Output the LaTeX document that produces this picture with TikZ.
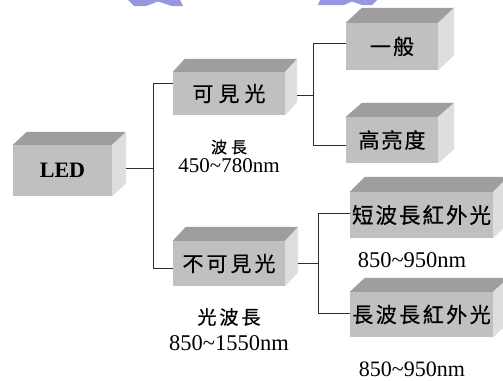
\documentclass[tikz,border=0pt]{standalone}
\usepackage{fontspec}
\setmainfont{Liberation Serif}
\newfontfamily\cjk[FakeBold=0.6]{Noto Sans CJK TC}
\usetikzlibrary{calc}
\definecolor{frontc}{RGB}{192,192,192}
\definecolor{topc}{RGB}{158,158,158}
\definecolor{sidec}{RGB}{222,222,222}
\definecolor{linec}{RGB}{45,45,45}
\definecolor{wmark}{RGB}{150,150,225}
\newcommand\cz[1]{\cjk\fontsize{#1}{#1}\selectfont}
\newcommand\nz[1]{\fontsize{#1}{#1}\selectfont}
\newcommand\cubebox[8]{%
  \node[frontbox, minimum width=#4pt, minimum height=#5pt] (#1) at (#2,#3) {#8};
  \fill[topc] (#1.north west) -- ++(#6,-#7) -- ($(#1.north east)+(#6,-#7)$) -- (#1.north east) -- cycle;
  \fill[sidec] (#1.north east) -- ++(#6,-#7) -- ($(#1.south east)+(#6,-#7)$) -- (#1.south east) -- cycle;
}
\tikzset{
  frontbox/.style={fill=frontc, draw=none, inner sep=0pt, text=black},
  conn/.style={draw=linec, line width=0.8pt},
  lbl/.style={inner sep=0pt, text=black, align=center},
}
\begin{document}
\begin{tikzpicture}[x=1pt,y=-1pt]
\useasboundingbox (0,0) rectangle (503,380);
\fill[white] (0,0) rectangle (503,380);
\begin{scope}
\clip (0,0) rectangle (503,380);
% watermark remnants
\fill[wmark] (128,0) -- (180,0) -- (183,6) -- (172,6) -- (158,1.5) -- (146,6) -- (134,6) -- cycle;
\fill[wmark] (320,0) -- (377,0) -- (372,5) -- (362,5) -- (352,1.5) -- (344,5) -- (318,5) -- cycle;
% boxes
\cubebox{led}{62.5}{170.5}{99}{51}{14}{13}{\raisebox{-1.5pt}{\nz{22}\bfseries LED}}
\cubebox{vis}{229}{93.5}{112}{43}{12}{13}{\cz{21}可\hspace{5pt}見\hspace{5pt}光}
\cubebox{inv}{229}{263.5}{112}{45}{13}{14}{\raisebox{-2.5pt}{\cz{21}不\hspace{3pt}可\hspace{3pt}見\hspace{3pt}光}}
\cubebox{gen}{392}{46.5}{92}{47}{16}{15}{\raisebox{-1.5pt}{\cz{21}一\hspace{2pt}般}}
\cubebox{hib}{392}{140}{92}{46}{16}{14}{\raisebox{-4pt}{\cz{21}高\hspace{2pt}亮\hspace{2pt}度}}
\cubebox{sir}{421.5}{215}{143}{46}{15}{15}{\raisebox{-3.5pt}{\cz{21.5}短\hspace{2pt}波\hspace{2pt}長\hspace{2pt}紅\hspace{2pt}外\hspace{2pt}光}}
\cubebox{lir}{421.5}{314.5}{143}{45}{15}{14}{\raisebox{-6pt}{\cz{21}長\hspace{2.5pt}波\hspace{2.5pt}長\hspace{2.5pt}紅\hspace{2.5pt}外\hspace{2.5pt}光}}
% labels
\node[lbl] (visw) at (229,147) {\cz{16}波\hspace{4pt}長};
\node[lbl] (visn) at (229,166) {\nz{21}450\char`~780nm};
\node[lbl] (invw) at (229,317) {\cz{19}光\hspace{3pt}波\hspace{3pt}長};
\node[lbl] (invn) at (229,343) {\nz{22.5}850\char`~1550nm};
\node[lbl] (sirn) at (412,260) {\nz{22.5}850\char`~950nm};
\node[lbl] (lirn) at (412,369) {\nz{22}850\char`~950nm};
% connectors
\draw[conn] ($(led.east)+(14,-2.5)$) -- ++(27,0) coordinate (jA);
\draw[conn] ($(vis.west)+(0,-10.5)$) -| (jA) |- ($(inv.west)+(0,4.5)$);
\draw[conn] ($(vis.east)+(12,1.5)$) -- ++(16,0) coordinate (jB);
\draw[conn] ($(gen.west)+(0,-3.5)$) -| (jB) |- ($(hib.west)+(0,5)$);
\draw[conn] ($(inv.east)+(13,-0.5)$) -- ++(20,0) coordinate (jC);
\draw[conn] ($(sir.west)+(0,-2)$) -| (jC) |- ($(lir.west)+(0,-1.5)$);
\end{scope}
\end{tikzpicture}
\end{document}
